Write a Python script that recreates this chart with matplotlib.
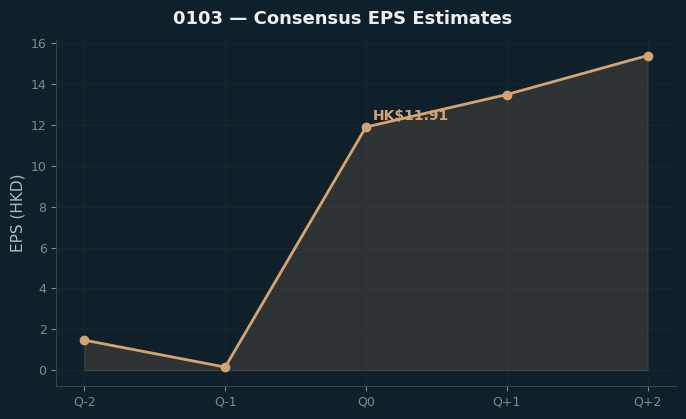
import matplotlib
matplotlib.use("Agg")
import matplotlib.pyplot as plt
import numpy as np

quarters = ["Q-2", "Q-1", "Q0", "Q+1", "Q+2"]
eps = [1.47, 0.15, 11.91, 13.50, 15.41]
label_idx = 2

bg = "#10202a"
line_c = "#d4a373"

fig = plt.figure(figsize=(6.86, 4.19), dpi=100, facecolor=bg)
ax = fig.add_axes([0.082, 0.079, 0.903, 0.826])
ax.set_facecolor(bg)

x = np.arange(len(quarters))
ax.fill_between(x, eps, 0, color=line_c, alpha=0.15)
ax.plot(x, eps, color=line_c, linewidth=2, marker="o", markersize=6)
ax.annotate("HK$%.2f" % eps[label_idx], (x[label_idx], eps[label_idx]),
            xytext=(5, 5), textcoords="offset points",
            color=line_c, fontsize=10, fontweight="bold")

ax.set_xticks(x)
ax.set_xticklabels(quarters)
ax.set_yticks(np.arange(0, 17, 2))
ax.tick_params(colors="#7f8a90", labelsize=9)
for s in ["top", "right"]:
    ax.spines[s].set_visible(False)
for s in ["left", "bottom"]:
    ax.spines[s].set_color("#3d4344")
ax.grid(True, color="#1c2b33", linewidth=0.6, alpha=0.6)
ax.set_axisbelow(True)

ax.set_ylabel("EPS (HKD)", color="#b5b9bb", fontsize=11)
fig.suptitle("0103 — Consensus EPS Estimates", color="#eeeeee",
             fontsize=13, fontweight="bold", y=0.975)

fig.savefig("out.png", dpi=100, facecolor=bg)
